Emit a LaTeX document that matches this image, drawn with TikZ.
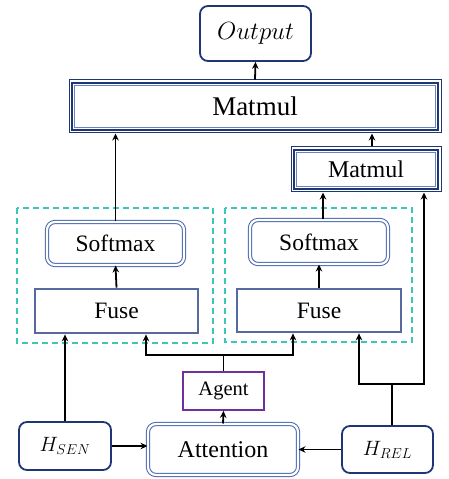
\documentclass[tikz,border=0pt]{standalone}
\usepackage{fontspec}
\setmainfont{Liberation Serif}
\usetikzlibrary{arrows.meta}
\definecolor{navy}{RGB}{31,54,118}
\definecolor{fuseblue}{RGB}{86,106,160}
\definecolor{dblblue}{RGB}{70,100,172}
\definecolor{agentpurple}{RGB}{112,48,160}
\definecolor{groupteal}{RGB}{60,198,180}
\newcommand\fs[1]{\fontsize{#1}{#1}\selectfont}
% thick inner frame of the Matmul boxes
\newcommand\MatmulFrame[1]{%
  \draw[navy,line width=2.2pt] ([shift={(3.4,3.4)}]#1.south west) rectangle ([shift={(-3.4,-3.4)}]#1.north east);
  \draw[dblblue!80,line width=0.8pt] ([shift={(6.2,6.2)}]#1.south west) rectangle ([shift={(-6.2,-6.2)}]#1.north east);
}
\tikzset{
  box/.style={inner sep=0pt,align=center},
  iobox/.style={box,draw=navy,line width=1.8pt,rounded corners=8pt},
  matmul/.style={box,draw=navy,line width=1pt},
  fusebox/.style={box,draw=fuseblue,line width=2.8pt},
  dblbox/.style={box,draw=dblblue,line width=1pt,double=white,double distance=2.2pt,rounded corners=8pt},
  agentbox/.style={box,draw=agentpurple,line width=1.8pt},
  group/.style={draw=groupteal,line width=1.4pt,dash pattern=on 6pt off 4pt},
  flow/.style={draw=black,line width=1.8pt,-{Stealth[length=7pt,width=6.5pt]}},
  wire/.style={draw=black,line width=1.8pt}
}

\begin{document}
\begin{tikzpicture}[x=1pt,y=1pt]
\useasboundingbox (0,0) rectangle (449,479);

% top part
\node[iobox,minimum width=111,minimum height=55] (out) at (255.5,445.5) {\fs{23}$Output$};
\node[matmul,minimum width=372,minimum height=53] (mtop) at (255,372.5) {\fs{27}Matmul};
\node[matmul,minimum width=150,minimum height=45] (mright) at (366,309.5) {\fs{24}Matmul};
\MatmulFrame{mtop}
\MatmulFrame{mright}

% the two fuse groups
\draw[group] (17,271) rectangle (213,136);
\draw[group] (225,271) rectangle (412,137);
\node[dblbox,minimum width=137,minimum height=43] (smL) at (115.5,235.5) {\fs{23.5}Softmax};
\node[dblbox,minimum width=138,minimum height=44] (smR) at (319,237) {\fs{23.5}Softmax};
\node[fusebox,minimum width=163,minimum height=44] (fuL) at (116.5,168) {\fs{23.5}Fuse};
\node[fusebox,minimum width=164,minimum height=43] (fuR) at (319,168.5) {\fs{23.5}Fuse};

% inputs
\node[agentbox,minimum width=81,minimum height=38] (agent) at (223.5,88) {\fs{20.5}Agent};
\node[dblbox,minimum width=150,minimum height=51] (att) at (223,29.5) {\fs{24}Attention};
\node[iobox,minimum width=92,minimum height=48] (hsen) at (65,33) {\fs{22}$H_{SEN}$};
\node[iobox,minimum width=91,minimum height=47] (hrel) at (387.5,29.5) {\fs{22}$H_{REL}$};

% connectors
\draw[flow] (mtop.north) -- (out.south);
\draw[flow] (smL.north) -- (smL.north |- mtop.south);
\draw[flow] ([xshift=6]mright.north) -- ([xshift=6]mright.north |- mtop.south);
\draw[flow] ([xshift=4]smR.north) -- ([xshift=4]smR.north |- mright.south);
\draw[flow] (fuL.north) -- (smL.south);
\draw[flow] (fuR.north) -- (smR.south);

\draw[flow] (hsen.east) -- (hsen.east -| att.west);
\draw[flow] (hrel.west) -- (hrel.west -| att.east);
\draw[flow] (att.north) -- (agent.south);
\draw[flow] (hsen.north) -- (hsen.north |- fuL.south);

\draw[wire] (agent.north) -- ++(0,16) coordinate (br);
\draw[flow] (br) -| ([xshift=29.5]fuL.south);
\draw[flow] (br) -| ([xshift=-26]fuR.south);

\draw[wire] ([xshift=4.5]hrel.north) -- ++(0,41) coordinate (rk);
\draw[flow] (rk) -| ([xshift=40]fuR.south);
\draw[flow] (rk) -| ([xshift=58]mright.south);
\end{tikzpicture}
\end{document}
